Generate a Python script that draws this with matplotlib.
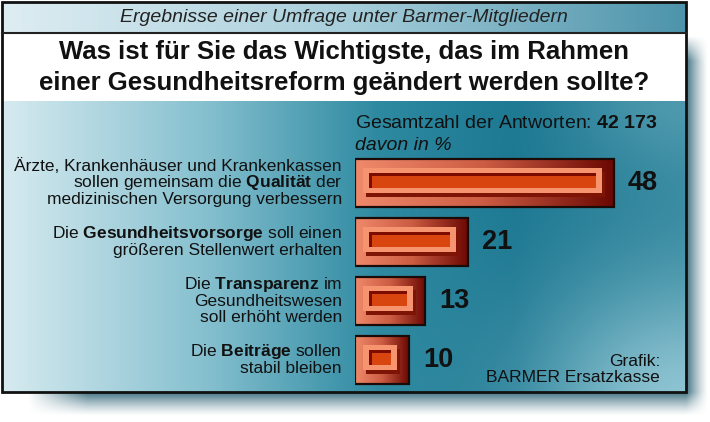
import numpy as np
import matplotlib
matplotlib.use("Agg")
import matplotlib.pyplot as plt
from matplotlib.patches import Rectangle

plt.rcParams['font.family'] = ['Liberation Sans', 'DejaVu Sans']
plt.rcParams['mathtext.fontset'] = 'custom'
plt.rcParams['mathtext.rm'] = 'Liberation Sans'
plt.rcParams['mathtext.bf'] = 'Liberation Sans:bold'
plt.rcParams['mathtext.it'] = 'Liberation Sans:italic'

# ---------------- data ----------------
subtitle = "Ergebnisse einer Umfrage unter Barmer-Mitgliedern"
title_lines = ["Was ist für Sie das Wichtigste, das im Rahmen",
               "einer Gesundheitsreform geändert werden sollte?"]
total_label = r"Gesamtzahl der Antworten: $\mathbf{42\ 173}$"
unit_label = "davon in %"
source_lines = ["Grafik:", "BARMER Ersatzkasse"]
category_lines = [
    ["Ärzte, Krankenhäuser und Krankenkassen",
     r"sollen gemeinsam die $\mathbf{Qualität}$ der",
     "medizinischen Versorgung verbessern"],
    [r"Die $\mathbf{Gesundheitsvorsorge}$ soll einen",
     "größeren Stellenwert erhalten"],
    [r"Die $\mathbf{Transparenz}$ im",
     "Gesundheitswesen",
     "soll erhöht werden"],
    [r"Die $\mathbf{Beiträge}$ sollen",
     "stabil bleiben"],
]
values = [48, 21, 13, 10]
value_labels = ["48", "21", "13", "10"]

# ---------------- figure ----------------
W, H = 710, 422
fig = plt.figure(figsize=(W / 100, H / 100), dpi=100)
fig.patch.set_facecolor("white")
bg = fig.add_axes([0, 0, 1, 1])
bg.set_xlim(0, W)
bg.set_ylim(H, 0)
bg.axis("off")

FX0, FX1, FY0, FY1 = 2, 686, 2, 392
BAND1, BAND2 = 33, 101

# drop shadow (single soft image under the frame)
sh_col = np.array([0.16, 0.38, 0.45])
px = np.arange(W) + 0.5
py = np.arange(H) + 0.5
PX, PY = np.meshgrid(px, py)
fx = np.clip((708 - PX) / 22.0, 0, 1) ** 1.3 * np.clip((PX - 28) / 60.0, 0, 1)
fy = np.clip((416 - PY) / 24.0, 0, 1) ** 1.3 * np.clip((PY - 36) / 25.0, 0, 1)
alpha = 0.9 * fx * fy
img = np.zeros((H, W, 4))
img[..., :3] = sh_col
img[..., 3] = alpha
bg.imshow(img, extent=(0, W, H, 0), aspect="auto", zorder=0,
          interpolation="bilinear")

# top band gradient
u = np.linspace(0, 1, 300)
c_left = np.array([0.87, 0.93, 0.95])
c_mid = np.array([0.66, 0.81, 0.86])
c_right = np.array([0.30, 0.58, 0.67])
row = np.where(u[:, None] < 0.5,
               c_left + (c_mid - c_left) * (u[:, None] / 0.5),
               c_mid + (c_right - c_mid) * ((u[:, None] - 0.5) / 0.5))
top = np.repeat(row[None, :, :], 10, axis=0)
bg.imshow(top, extent=(FX0, FX1, BAND1, FY0), aspect="auto", zorder=1,
          interpolation="bilinear")

# white band
bg.add_patch(Rectangle((FX0, BAND1), FX1 - FX0, BAND2 - BAND1,
                       facecolor="white", edgecolor="none", zorder=1))

# body gradient
nx, ny = 400, 200
u = np.linspace(0, 1, nx)
v = np.linspace(0, 1, ny)
U, V = np.meshgrid(u, v)
stops = [0.0, 0.3, 0.55, 0.75, 1.0]
cols = np.array([[0.84, 0.92, 0.94],
                 [0.52, 0.75, 0.81],
                 [0.18, 0.54, 0.63],
                 [0.11, 0.47, 0.57],
                 [0.20, 0.53, 0.62]])
base = np.zeros((ny, nx, 3))
for k in range(3):
    base[..., k] = np.interp(U, stops, cols[:, k])
light = np.array([0.62, 0.81, 0.86])
w = 0.85 * np.exp(-(((U - 1.0) ** 2) / 0.05 + ((V - 1.05) ** 2) / 0.18))
w += 0.25 * np.exp(-(((U - 0.98) ** 2) / 0.02 + ((V - 0.0) ** 2) / 0.05))
w = np.clip(w, 0, 0.9)
body = base * (1 - w[..., None]) + light * w[..., None]
bg.imshow(body, extent=(FX0, FX1, FY1, BAND2), aspect="auto", zorder=1,
          interpolation="bilinear")

# frame and separator
bg.add_patch(Rectangle((FX0, FY0), FX1 - FX0, FY1 - FY0, facecolor="none",
                       edgecolor="#111111", lw=2, zorder=5))
bg.plot([FX0, FX1], [BAND1, BAND1], color="#222222", lw=1.5, zorder=5)

# header texts
cx = (FX0 + FX1) / 2
bg.text(cx, 18, subtitle, ha="center", va="center", fontsize=14,
        style="italic", color="#222222", zorder=6)
bg.text(cx, 52, title_lines[0], ha="center", va="center", fontsize=18.5,
        fontweight="bold", color="#111111", zorder=6)
bg.text(cx, 83, title_lines[1], ha="center", va="center", fontsize=18.5,
        fontweight="bold", color="#111111", zorder=6)

# ---------------- bars ----------------
PX_PER_UNIT = 259 / 48.0
X0_PX = 355
ROW_PX = 59
ax_left = X0_PX / W
ax_w = (FX1 - X0_PX) / W
ax_top_px, ax_bot_px = 153.5, 153.5 + 4 * ROW_PX
ax = fig.add_axes([ax_left, 1 - ax_bot_px / H, ax_w, (ax_bot_px - ax_top_px) / H])
ax.set_zorder(3)
ax.patch.set_alpha(0)
ax.axis("off")
xmax = (FX1 - X0_PX) / PX_PER_UNIT
ax.set_xlim(0, xmax)
ax.set_ylim(len(values) - 0.5, -0.5)

bar_h = 48 / ROW_PX
ypos = np.arange(len(values))
bars = ax.barh(ypos, values, height=bar_h, facecolor="none",
               edgecolor="#1a0a08", linewidth=1.6, zorder=5)

grad = np.linspace(0, 1, 256)
c_a = np.array([0.94, 0.54, 0.42])
c_b = np.array([0.80, 0.36, 0.26])
c_c = np.array([0.42, 0.03, 0.01])
gcols = np.where(grad[:, None] < 0.5,
                 c_a + (c_b - c_a) * (grad[:, None] / 0.5),
                 c_b + (c_c - c_b) * ((grad[:, None] - 0.5) / 0.5))
gimg = gcols[None, :, :]

dx = 1 / PX_PER_UNIT
dy = 1 / ROW_PX


def rect(x0, x1, y0, y1, color, z):
    ax.add_patch(Rectangle((x0, y0), x1 - x0, y1 - y0, facecolor=color,
                           edgecolor="none", zorder=z))


for b in bars:
    x0 = b.get_x()
    x1 = x0 + b.get_width()
    yt = b.get_y()
    yb = yt + b.get_height()
    im = ax.imshow(gimg, extent=(x0, x1, yb, yt), aspect="auto", zorder=2,
                   interpolation="bilinear")
    im.set_clip_path(b)
    # inner decorative frames
    rect(x0 + 11 * dx, x1 - 9 * dx, yt + 13 * dy, yb - 10 * dy, "#7e1406", 3)
    rect(x0 + 8 * dx, x1 - 12 * dx, yt + 9 * dy, yb - 14 * dy, "#f5946f", 3.1)
    rect(x0 + 14 * dx, x1 - 18 * dx, yt + 14 * dy, yb - 19 * dy, "#7c0c00", 3.2)
    rect(x0 + 17 * dx, x1 - 18 * dx, yt + 17 * dy, yb - 19 * dy, "#d8450e", 3.3)

ax.set_xlim(0, xmax)
ax.set_ylim(len(values) - 0.5, -0.5)

# value labels
for b, lab in zip(bars, value_labels):
    ax.annotate(lab, xy=(b.get_width(), b.get_y() + b.get_height() / 2),
                xytext=(14 * 0.72, 0), textcoords="offset points",
                ha="left", va="center", fontsize=19.5, fontweight="bold",
                color="#111111", zorder=6)

# category labels
line_pt = 16.5 * 0.72
for i, lines in enumerate(category_lines):
    n = len(lines)
    for j, ln in enumerate(lines):
        off = -((j - (n - 1) / 2) * line_pt)
        ax.annotate(ln, xy=(0, ypos[i]), xytext=(-13 * 0.72, off),
                    textcoords="offset points", ha="right", va="center",
                    fontsize=12.5, color="#111111", annotation_clip=False)

# total & unit labels
bg.text(X0_PX, 123, total_label, ha="left", va="center", fontsize=14,
        color="#111111", zorder=6)
bg.text(X0_PX, 145, unit_label, ha="left", va="center", fontsize=14,
        style="italic", color="#111111", zorder=6)

# source
bg.text(660, 362, source_lines[0], ha="right", va="center", fontsize=12.5,
        color="#111111", zorder=6)
bg.text(660, 378, source_lines[1], ha="right", va="center", fontsize=12.5,
        color="#111111", zorder=6)

fig.savefig("out.png", dpi=100, facecolor="white")
